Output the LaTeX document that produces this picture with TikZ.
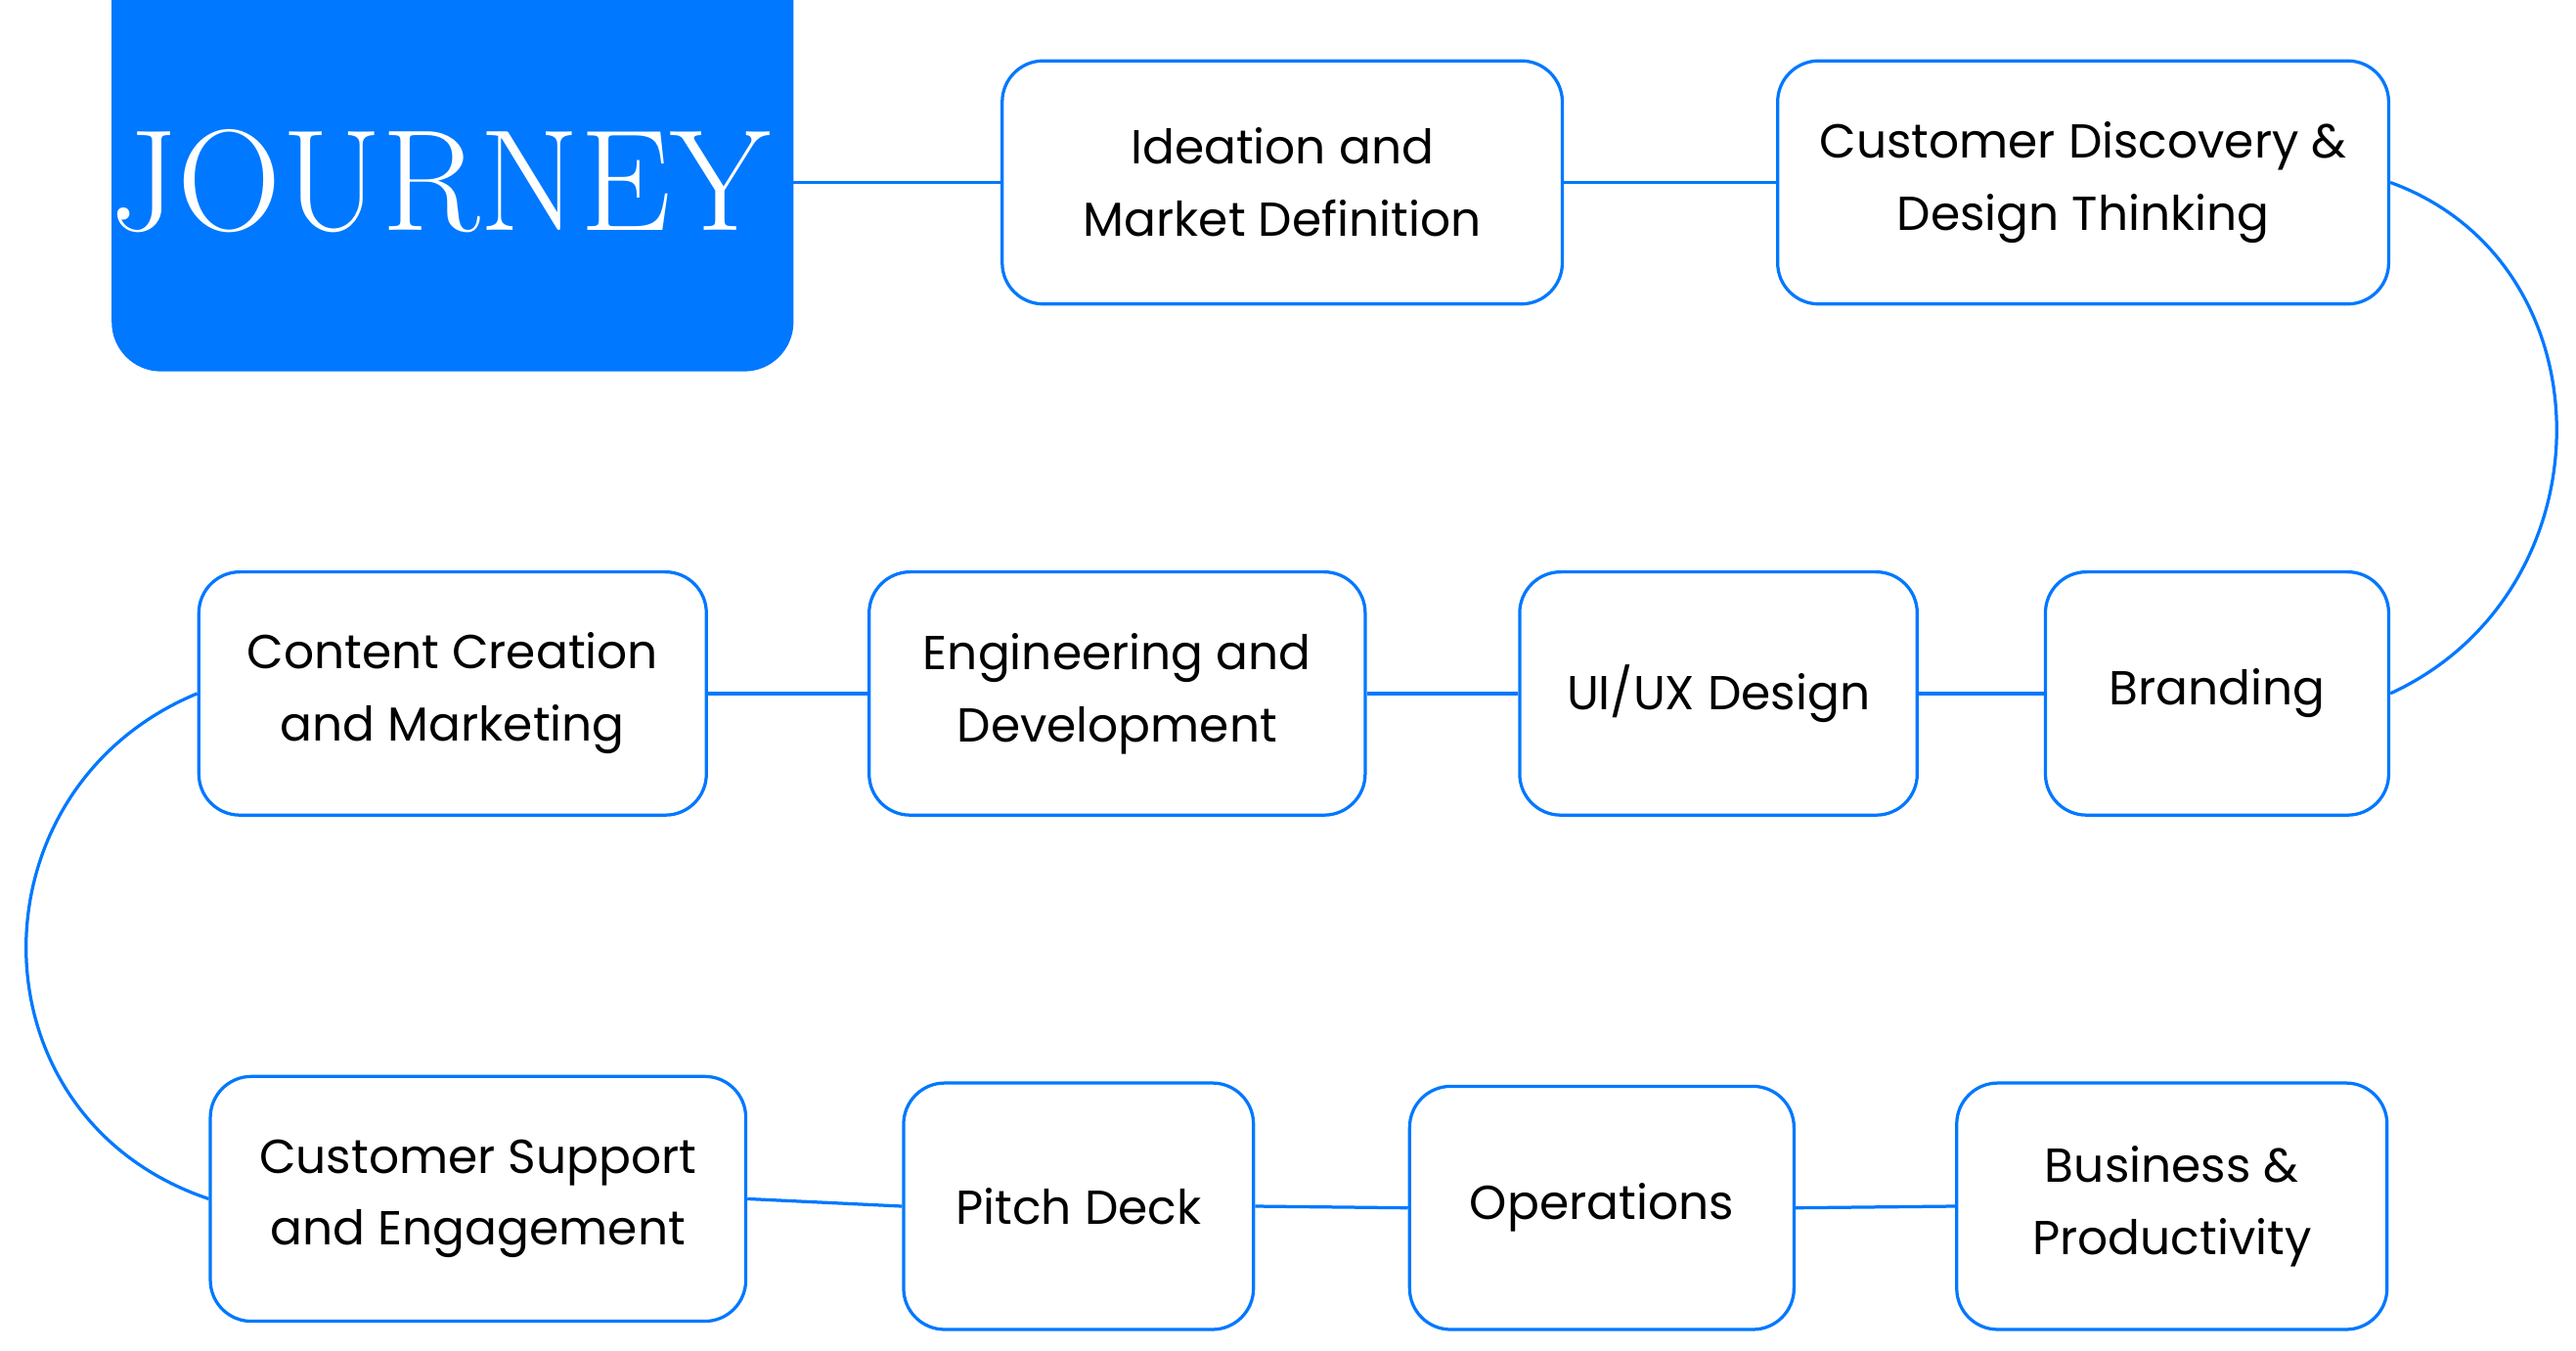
\documentclass[tikz,border=0pt]{standalone}
\usepackage{fontspec}
\setmainfont{Poppins}
\newfontfamily\jfont{Latin Modern Roman}
\definecolor{jblue}{HTML}{0078FF}
\begin{document}
\begin{tikzpicture}[x=0.02cm,y=-0.02cm,
  box/.style={draw=jblue,line width=1.1pt,rounded corners=0.5cm,fill=white,align=center,
    font=\fontsize{16.5}{25}\selectfont,text=black,inner sep=0pt},
  conn/.style={draw=jblue,line width=1.1pt}]
\useasboundingbox (0,0) rectangle (1568,822);
\fill[jblue] (68,0) [rounded corners=0.6cm] -- (68,226) -- (483,226) [sharp corners] -- (483,0) -- cycle;
\node[text=white,font=\jfont\fontsize{50}{50}\selectfont] (j) at (268,110) {JOURNEY};
\coordinate (je) at (483,111);
\node[box,minimum width=6.82cm,minimum height=2.96cm] (b1) at (780.5,111) {Ideation and\\Market Definition};
\node[box,minimum width=7.44cm,minimum height=2.96cm] (b2) at (1268,111) {Customer Discovery \&\\Design Thinking};
\node[box,minimum width=4.18cm,minimum height=2.96cm] (b3) at (1349.5,422) {Branding};
\node[box,minimum width=4.84cm,minimum height=2.96cm] (b4) at (1046,422) {UI/UX Design};
\node[box,minimum width=6.04cm,minimum height=2.96cm] (b5) at (680,422) {Engineering and\\Development};
\node[box,minimum width=6.18cm,minimum height=2.96cm] (b6) at (275.5,422) {Content Creation\\and Marketing};
\node[box,minimum width=6.52cm,minimum height=2.98cm] (b7) at (291,729.5) {Customer Support\\and Engagement};
\node[box,minimum width=4.26cm,minimum height=3.0cm] (b8) at (656.5,734) {Pitch Deck};
\node[box,minimum width=4.68cm,minimum height=2.96cm] (b9) at (975,735) {Operations};
\node[box,minimum width=5.24cm,minimum height=3.0cm] (b10) at (1322,734) {Business \&\\Productivity};
\draw[conn] (je) -- (b1.west);
\draw[conn] (b1.east) -- (b2.west);
\draw[conn] (b3.west) -- (b4.east);
\draw[conn] (b4.west) -- (b5.east);
\draw[conn] (b5.west) -- (b6.east);
\draw[conn] (b7.east) -- (b8.west);
\draw[conn] (b8.east) -- (b9.west);
\draw[conn] (b9.east) -- (b10.west);
\draw[conn] (b2.east) .. controls (1590,160) and (1590,360) .. (b3.east);
\draw[conn] (b6.west) .. controls (-20,480) and (-20,680) .. (b7.west);
\end{tikzpicture}
\end{document}
